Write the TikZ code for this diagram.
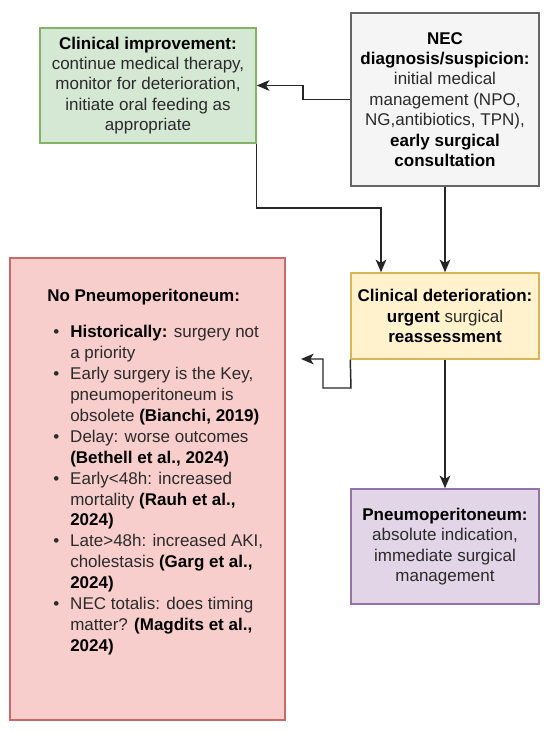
\documentclass[tikz,border=0pt]{standalone}
\usepackage{fontspec}
\setmainfont{Liberation Sans}
\usetikzlibrary{arrows.meta}
\definecolor{txtgray}{HTML}{2A2A2A}
\definecolor{grayfill}{HTML}{F5F5F5}
\definecolor{graydraw}{HTML}{666666}
\definecolor{greenfill}{HTML}{D5E8D4}
\definecolor{greendraw}{HTML}{82B366}
\definecolor{yellowfill}{HTML}{FFF2CC}
\definecolor{yellowdraw}{HTML}{D6B656}
\definecolor{purplefill}{HTML}{E1D5E7}
\definecolor{purpledraw}{HTML}{9673A6}
\definecolor{redfill}{HTML}{F8CECC}
\definecolor{reddraw}{HTML}{C96A68}
\newcommand\B[1]{\textbf{\color{black}#1}}
\newcommand\bul{\makebox[12.75pt][l]{•}}
\newcommand\ind{\hspace*{12.75pt}}
\begin{document}
\begin{tikzpicture}[x=0.75pt,y=-0.75pt,
  every node/.style={font=\fontsize{12.75pt}{15.3pt}\selectfont, text=txtgray},
  flowbox/.style={draw, line width=1.1pt, align=center, inner sep=0pt},
  arr/.style={draw=black!85, line width=1.1pt, -{Stealth[length=9.5pt,width=8pt,inset=2.5pt]}}]
\useasboundingbox (0,0) rectangle (550,732);
% boxes
\node[flowbox, fill=grayfill, draw=graydraw, minimum width=141pt, minimum height=129.75pt] (nec) at (445,99.5)
  {\B{NEC}\\ \B{diagnosis/suspicion:}\\ initial medical\\ management (NPO,\\ NG,antibiotics, TPN),\\ \B{early surgical}\\ \B{consultation}};
\node[flowbox, fill=greenfill, draw=greendraw, minimum width=162pt, minimum height=86.25pt] (impr) at (148,85.5)
  {\B{Clinical improvement:}\\ continue medical therapy,\\ monitor for deterioration,\\ initiate oral feeding as\\ appropriate};
\node[flowbox, fill=yellowfill, draw=yellowdraw, minimum width=141pt, minimum height=64.5pt] (det) at (445,316)
  {\B{Clinical deterioration:}\\ \B{urgent} surgical\\ \B{reassessment}};
\node[flowbox, fill=purplefill, draw=purpledraw, minimum width=141pt, minimum height=86.25pt] (pneu) at (445,546.5)
  {\B{Pneumoperitoneum:}\\ absolute indication,\\ immediate surgical\\ management};
\node[flowbox, fill=redfill, draw=reddraw, minimum width=206.25pt, minimum height=346.5pt] (nopneu) at (147.5,489) {};
\node[anchor=base west, inner sep=0pt] (nptitle) at (47,301) {\B{No Pneumoperitoneum:}};
\node[anchor=north west, inner sep=0pt, align=left, font=\fontsize{12.75pt}{15.7pt}\selectfont] (nplist) at (53,325)
  {\bul\B{Historically:} surgery not\\
   \ind a priority\\
   \bul Early surgery is the Key,\\
   \ind pneumoperitoneum is\\
   \ind obsolete \B{(Bianchi, 2019)}\\
   \bul Delay: worse outcomes\\
   \ind\B{(Bethell et al., 2024)}\\
   \bul Early<48h: increased\\
   \ind mortality \B{(Rauh et al.,}\\
   \ind\B{2024)}\\
   \bul Late>48h: increased AKI,\\
   \ind cholestasis \B{(Garg et al.,}\\
   \ind\B{2024)}\\
   \bul NEC totalis: does timing\\
   \ind matter? \B{(Magdits et al.,}\\
   \ind\B{2024)}};
% helper coordinates
\coordinate (k1) at (303,99.5);
\coordinate (k2) at (303,85.5);
\coordinate (k3) at (381,208);
\coordinate (k4) at (351,388);
\coordinate (k5) at (323,388);
\coordinate (k6) at (323,359);
\coordinate (redtip) at (301,359);
% connectors
\draw[arr] (nec.west) -- (k1) -- (k2) -- (impr.east);
\draw[arr] (impr.south east) |- (k3) -- (k3 |- det.north);
\draw[arr] (nec.south) -- (det.north);
\draw[arr] (det.south west) -- (k4) -- (k5) -- (k6) -- (redtip);
\draw[arr] (det.south) -- (pneu.north);
\end{tikzpicture}
\end{document}
